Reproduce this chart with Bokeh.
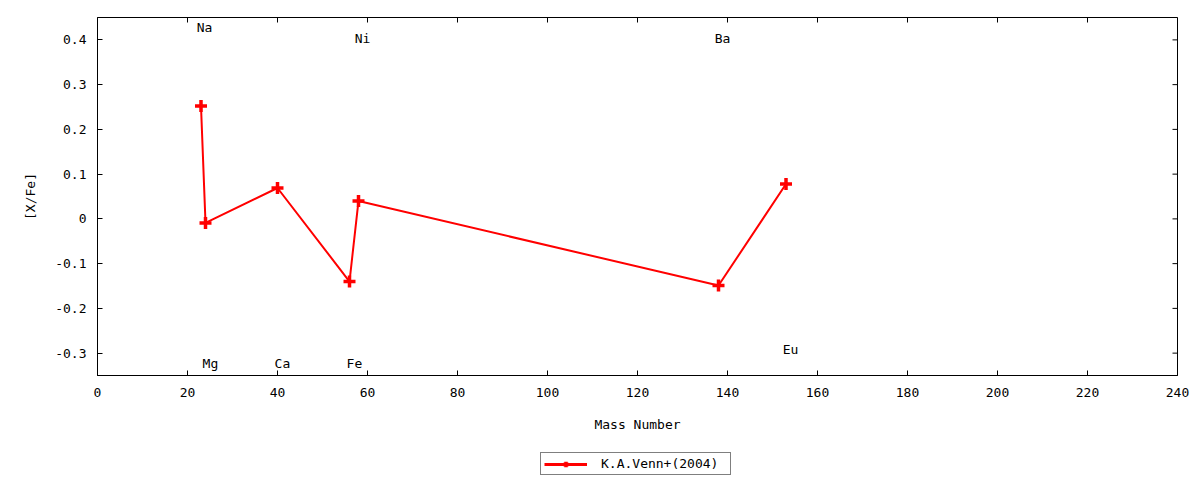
import math
from bokeh.plotting import figure
from bokeh.layouts import column
from bokeh.models import Legend, LegendItem, Range1d, FixedTicker
from bokeh.embed import file_html
from bokeh.resources import INLINE
from bokeh.core.properties import value

# ---- data ----
mass = [23, 24, 40, 56, 58, 138, 153]
xfe = [0.252, -0.009, 0.069, -0.14, 0.04, -0.149, 0.078]
elements = ["Na", "Mg", "Ca", "Fe", "Ni", "Ba", "Eu"]
label_x = [23.8, 25.1, 41.1, 57.1, 58.9, 138.9, 154.0]
label_y = [0.428, -0.323, -0.323, -0.323, 0.403, 0.403, -0.292]
x_ticks = [0, 20, 40, 60, 80, 100, 120, 140, 160, 180, 200, 220, 240]
y_ticks = [-0.3, -0.2, -0.1, 0.0, 0.1, 0.2, 0.3, 0.4]
y_tick_labels = ["-0.3", "-0.2", "-0.1", "0", "0.1", "0.2", "0.3", "0.4"]
x_min, x_max = 0, 240
y_min, y_max = -0.35, 0.45
series_name = "K.A.Venn+(2004)"

FONT = "DejaVu Sans Mono"
FS = "13px"

p = figure(frame_width=1080, frame_height=358,
           x_range=Range1d(x_min, x_max), y_range=Range1d(y_min, y_max),
           output_backend="svg", toolbar_location=None,
           min_border_left=97, min_border_right=15, min_border_top=17,
           min_border_bottom=65,
           x_axis_label="Mass Number", y_axis_label="[X/Fe]")
p.grid.visible = False
p.outline_line_color = "black"
p.outline_line_width = 1
p.background_fill_color = "white"
p.border_fill_color = "white"

p.xaxis.ticker = FixedTicker(ticks=x_ticks)
p.yaxis.ticker = FixedTicker(ticks=y_ticks)
p.yaxis.major_label_overrides = {t: l for t, l in zip(y_ticks, y_tick_labels)}

for ax in [p.xaxis[0], p.yaxis[0]]:
    ax.major_tick_in = 5
    ax.major_tick_out = 0
    ax.minor_tick_line_color = None
    ax.axis_line_color = "black"
    ax.major_tick_line_color = "black"
    ax.major_label_text_font = FONT
    ax.major_label_text_font_size = FS
    ax.major_label_text_color = "black"
    ax.axis_label_text_font = FONT
    ax.axis_label_text_font_size = FS
    ax.axis_label_text_font_style = "normal"
    ax.axis_label_text_color = "black"

p.xaxis.major_label_standoff = 12
p.xaxis.axis_label_standoff = 17
p.yaxis.major_label_standoff = 11
p.yaxis.axis_label_standoff = 14

# mirror ticks on the top and right frame edges (half clipped by the frame)
p.scatter(x=x_ticks, y=[y_max] * len(x_ticks), marker="dash", angle=math.pi / 2,
          size=10, line_color="black", line_width=1)
p.scatter(x=[x_max] * len(y_ticks), y=y_ticks, marker="dash",
          size=10, line_color="black", line_width=1)

p.line(mass, xfe, line_color="red", line_width=2)
p.scatter(mass, xfe, marker="cross", size=12, line_width=3.5, line_color="red")

p.text(x=label_x, y=label_y, text=elements, text_align="center",
       text_baseline="middle", text_font=value(FONT), text_font_size=FS,
       text_color="black")

# ---- legend strip below the plot (frames are aligned by the column) ----
q = figure(width=1192, height=40, x_range=Range1d(1000, 1001),
           y_range=Range1d(1000, 1001), output_backend="svg",
           toolbar_location=None, min_border=0,
           x_axis_type=None, y_axis_type=None)
q.grid.visible = False
q.outline_line_color = None
q.background_fill_color = "white"
q.border_fill_color = "white"
lr = q.line(mass, xfe, line_color="red", line_width=3)
sr = q.scatter(mass, xfe, marker="cross", size=12, line_width=3.5, line_color="red")

legend = Legend(items=[LegendItem(label=series_name, renderers=[lr, sr])],
                location=(443, 5))
legend.border_line_color = "black"
legend.border_line_width = 1
legend.padding = 3
legend.margin = 0
legend.spacing = 0
legend.glyph_width = 43
legend.glyph_height = 14
legend.label_height = 14
legend.label_width = 126
legend.label_standoff = 14
legend.label_text_font = FONT
legend.label_text_font_size = FS
legend.label_text_color = "black"
legend.background_fill_alpha = 1
q.add_layout(legend, "center")

layout = column(p, q, spacing=0)
open("out.html", "w").write(file_html(layout, INLINE))
